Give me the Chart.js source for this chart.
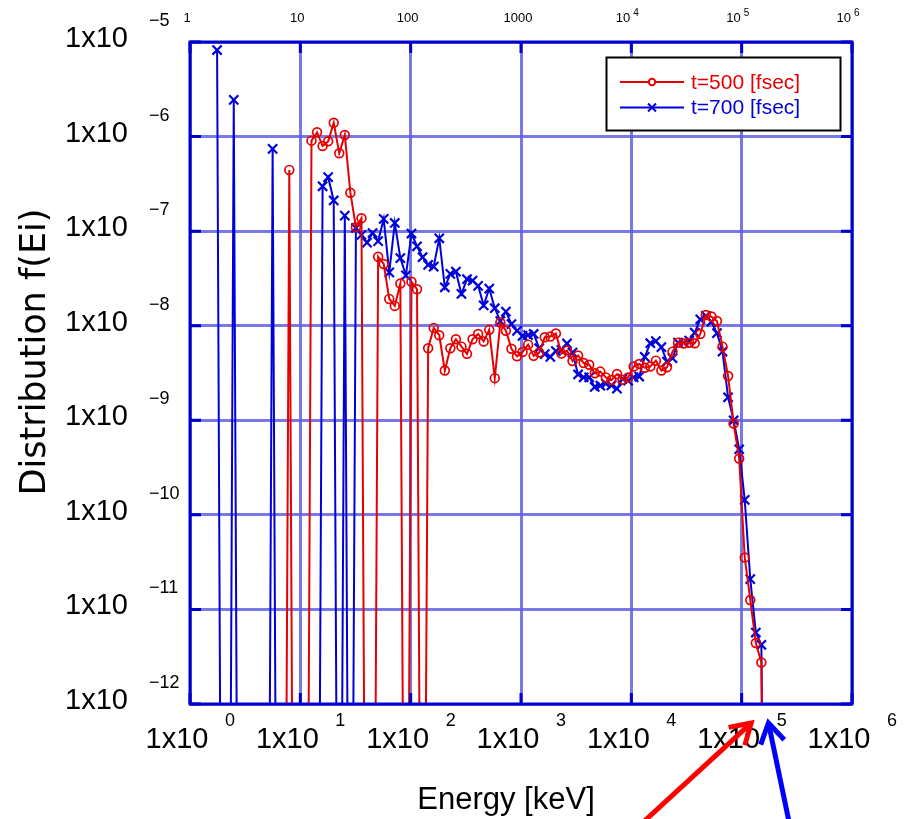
<!DOCTYPE html>
<html><head><meta charset="utf-8">
<script src="https://cdn.jsdelivr.net/npm/chart.js@4"></script>
<style>html,body{margin:0;padding:0;background:#fff}canvas{display:block}</style>
</head><body>
<canvas id="c" width="904" height="819"></canvas>
<script>
// Energy bins [keV] (log-spaced histogram bins)
const energyKeV = [
  1.760,1.976,2.219,2.492,2.798,3.142,3.528,3.962,4.449,4.995,
  5.609,6.298,7.072,7.941,8.917,10.01,11.24,12.62,14.17,15.91,
  17.87,20.07,22.53,25.30,28.41,31.90,35.82,40.22,45.16,50.71,
  56.95,63.95,71.81,80.63,90.55,101.7,114.2,128.2,144.0,161.7,
  181.6,203.9,228.9,257.1,288.6,324.1,363.9,408.7,458.9,515.3,
  578.6,649.7,729.6,819.3,919.9,1033,1160,1302,1462,1642,
  1844,2071,2325,2611,2932,3292,3697,4151,4661,5234,
  5877,6600,7411,8322,9345,10494,11783,13231,14858,16684,
  18734,21037,23623,26526,29786,33447,37558,42174,47357,53178,
  59715,67053,75295,84549,94940,106600,119700,134400,150900,169500
];
// Distribution f(Ei) at t=500 fsec (0 = empty bin)
const f500 = [
  0,0,0,0,0,0,0,0,0,0,
  0,0,0,4.44e-7,0,0,0,9.06e-7,1.11e-6,7.96e-7,
  8.91e-7,1.40e-6,6.65e-7,1.04e-6,2.55e-7,1.10e-7,1.37e-7,0,0,5.37e-8,
  4.50e-8,1.92e-8,1.62e-8,2.79e-8,0,2.92e-8,2.43e-8,0,5.78e-9,9.48e-9,
  7.93e-9,3.36e-9,5.78e-9,7.19e-9,6.01e-9,5.04e-9,7.19e-9,8.18e-9,6.82e-9,9.04e-9,
  2.79e-9,1.08e-8,8.85e-9,5.70e-9,4.75e-9,5.28e-9,6.31e-9,4.80e-9,5.20e-9,7.55e-9,
  7.67e-9,8.26e-9,5.07e-9,5.46e-9,4.23e-9,4.85e-9,4.03e-9,3.87e-9,3.14e-9,3.27e-9,
  2.84e-9,2.67e-9,3.08e-9,2.69e-9,2.83e-9,3.70e-9,3.94e-9,3.59e-9,3.70e-9,4.27e-9,
  3.36e-9,3.64e-9,5.32e-9,6.62e-9,6.49e-9,6.61e-9,6.53e-9,8.18e-9,1.30e-8,1.25e-8,
  1.12e-8,6.01e-9,2.94e-9,9.23e-10,3.94e-10,3.54e-11,1.26e-11,4.41e-12,2.75e-12,0
];
// Distribution f(Ei) at t=700 fsec (0 = empty bin)
const f700 = [
  8.22e-6,0,0,2.44e-6,0,0,0,0,0,0,
  7.40e-7,0,0,0,0,0,0,0,0,2.98e-7,
  3.72e-7,2.11e-7,0,1.46e-7,0,1.08e-7,9.12e-8,7.55e-8,9.55e-8,7.85e-8,
  1.35e-7,3.66e-8,1.22e-7,5.19e-8,3.41e-8,9.44e-8,6.92e-8,5.30e-8,4.40e-8,4.22e-8,
  8.41e-8,2.55e-8,3.53e-8,3.73e-8,2.17e-8,3.10e-8,3.00e-8,2.64e-8,1.64e-8,2.47e-8,
  1.53e-8,1.12e-8,1.41e-8,1.04e-8,8.81e-9,7.80e-9,7.94e-9,8.18e-9,5.78e-9,5.01e-9,
  4.68e-9,5.40e-9,5.55e-9,6.49e-9,5.20e-9,3.05e-9,2.85e-9,2.85e-9,2.25e-9,2.32e-9,
  2.44e-9,2.34e-9,2.16e-9,2.75e-9,2.63e-9,2.85e-9,2.90e-9,4.68e-9,6.53e-9,6.87e-9,
  5.93e-9,4.18e-9,4.53e-9,6.62e-9,6.62e-9,6.97e-9,8.45e-9,1.17e-8,1.27e-8,1.10e-8,
  8.34e-9,5.32e-9,1.75e-9,1.00e-9,4.94e-10,1.44e-10,2.09e-11,5.70e-12,4.23e-12,0
];
const seriesLabels = ['t=500 [fsec]', 't=700 [fsec]'];
const xDecades = [1, 10, 100, 1000, 1e4, 1e5, 1e6];
const xBottomExp = ['0', '1', '2', '3', '4', '5', '6'];
const xTopBase = ['1', '10', '100', '1000', '10', '10', '10'];
const xTopExp = ['', '', '', '', '4', '5', '6'];
const yDecades = [1e-5, 1e-6, 1e-7, 1e-8, 1e-9, 1e-10, 1e-11, 1e-12];
const yExp = ['\u22125', '\u22126', '\u22127', '\u22128', '\u22129', '\u221210', '\u221211', '\u221212'];
const xTitle = 'Energy [keV]';
const yTitle = 'Distribution f(Ei)';
const arrowTargetsKeV = [1.22e5, 1.75e5];

const RED = '#e60000', BLUE = '#0000d8';
const FONT = '"Liberation Sans", Arial, sans-serif';
const TITLE_FONT = '"DejaVu Sans", "Liberation Sans", sans-serif';
const FLOOR = 1e-18; // empty bins are drawn as dropping to the bottom of the axis

function pts(vals) {
  return energyKeV.map((e, i) => ({ x: e, y: vals[i] > 0 ? vals[i] : FLOOR }));
}
const isFloor = c => c.raw && c.raw.y <= FLOOR;

const decorations = {
  id: 'decorations',
  afterDraw(chart) {
    const { ctx, chartArea: a, scales: { x, y } } = chart;
    ctx.save();
    // frame
    ctx.strokeStyle = '#0000cc'; ctx.lineWidth = 3;
    ctx.strokeRect(a.left, a.top, a.right - a.left, a.bottom - a.top);
    // inner ticks
    ctx.lineWidth = 3;
    xDecades.forEach(v => {
      const px = x.getPixelForValue(v);
      ctx.beginPath();
      ctx.moveTo(px, a.bottom); ctx.lineTo(px, a.bottom - 11);
      ctx.moveTo(px, a.top); ctx.lineTo(px, a.top + 11);
      ctx.stroke();
    });
    yDecades.forEach(v => {
      const py = y.getPixelForValue(v);
      ctx.beginPath();
      ctx.moveTo(a.left, py); ctx.lineTo(a.left + 11, py);
      ctx.moveTo(a.right, py); ctx.lineTo(a.right - 11, py);
      ctx.stroke();
    });
    // y tick labels 1x10^n
    ctx.fillStyle = '#000';
    ctx.textBaseline = 'middle';
    yDecades.forEach((v, i) => {
      const py = y.getPixelForValue(v);
      ctx.font = '29px ' + FONT; ctx.textAlign = 'right';
      ctx.fillText('1x10', 128, py - 3);
      ctx.font = '18px ' + FONT; ctx.textAlign = 'left';
      ctx.fillText(yExp[i], 149, py - 21);
    });
    // bottom x tick labels
    xDecades.forEach((v, i) => {
      const px = x.getPixelForValue(v);
      ctx.font = '29px ' + FONT; ctx.textAlign = 'center';
      ctx.fillText('1x10', px - 13, a.bottom + 36);
      ctx.font = '18px ' + FONT;
      ctx.fillText(xBottomExp[i], px + 40, a.bottom + 17);
    });
    // top x tick labels
    xDecades.forEach((v, i) => {
      const px = x.getPixelForValue(v);
      ctx.font = '13px ' + FONT;
      if (xTopExp[i]) {
        ctx.textAlign = 'right';
        ctx.fillText(xTopBase[i], px - 1, 18);
        ctx.font = '10px ' + FONT; ctx.textAlign = 'left';
        ctx.fillText(xTopExp[i], px + 2, 13);
      } else {
        ctx.textAlign = 'center';
        ctx.fillText(xTopBase[i], px - 3, 18);
      }
    });
    // axis titles
    ctx.font = '31px ' + FONT; ctx.textAlign = 'center';
    ctx.fillText(xTitle, 506, 800);
    ctx.save();
    ctx.font = '35px ' + TITLE_FONT;
    ctx.translate(36, 352); ctx.rotate(-Math.PI / 2);
    ctx.fillText(yTitle, 0, 0);
    ctx.restore();
    // legend
    const lx = 606.5, ly = 57.5, lw = 234, lh = 73;
    ctx.fillStyle = '#fff'; ctx.fillRect(lx, ly, lw, lh);
    ctx.strokeStyle = '#000'; ctx.lineWidth = 2; ctx.strokeRect(lx, ly, lw, lh);
    chart.data.datasets.forEach((ds, i) => {
      const yy = 82 + i * 25.5;
      ctx.strokeStyle = ds.borderColor; ctx.lineWidth = 2;
      ctx.beginPath(); ctx.moveTo(620, yy); ctx.lineTo(684, yy); ctx.stroke();
      ctx.beginPath();
      if (i === 0) { ctx.arc(652, yy, 3.2, 0, Math.PI * 2); ctx.fillStyle = '#fff'; ctx.fill(); ctx.stroke(); }
      else { ctx.moveTo(648, yy - 4); ctx.lineTo(656, yy + 4); ctx.moveTo(656, yy - 4); ctx.lineTo(648, yy + 4); ctx.stroke(); }
      ctx.fillStyle = ds.borderColor; ctx.font = '21px ' + FONT; ctx.textAlign = 'left';
      ctx.fillText(ds.label, 691, yy + 1);
    });
    // annotation arrows
    const arrows = [
      { color: '#ff0000', tail: [-110, 101] },
      { color: '#0000ff', tail: [21, 101] }
    ];
    arrows.forEach((ar, i) => {
      const tx = x.getPixelForValue(arrowTargetsKeV[i]);
      const ty = a.bottom + 19;
      const ang = Math.atan2(ar.tail[1], ar.tail[0]);
      ctx.strokeStyle = ar.color; ctx.lineWidth = 5; ctx.lineCap = 'butt';
      ctx.beginPath();
      ctx.moveTo(tx + ar.tail[0], ty + ar.tail[1]);
      ctx.lineTo(tx + 2 * Math.cos(ang), ty + 2 * Math.sin(ang));
      ctx.stroke();
      ctx.beginPath();
      ctx.moveTo(tx + 23 * Math.cos(ang - 0.55), ty + 23 * Math.sin(ang - 0.55));
      ctx.lineTo(tx, ty);
      ctx.lineTo(tx + 23 * Math.cos(ang + 0.55), ty + 23 * Math.sin(ang + 0.55));
      ctx.stroke();
    });
    ctx.restore();
  }
};

const gridStyle = { color: 'rgba(96,96,226,0.85)', lineWidth: 3, drawTicks: false };

new Chart(document.getElementById('c'), {
  type: 'line',
  data: {
    datasets: [
      {
        label: seriesLabels[0], data: pts(f500),
        borderColor: RED, borderWidth: 2, tension: 0,
        pointStyle: 'circle', pointRadius: c => isFloor(c) ? 0 : 4.4,
        pointBorderWidth: 1.7, pointBorderColor: RED, pointBackgroundColor: 'rgba(255,255,255,0)'
      },
      {
        label: seriesLabels[1], data: pts(f700),
        borderColor: BLUE, borderWidth: 2, tension: 0,
        pointStyle: 'crossRot', pointRadius: c => isFloor(c) ? 0 : 6.5,
        pointBorderWidth: 2.2, pointBorderColor: BLUE, pointBackgroundColor: BLUE
      }
    ]
  },
  options: {
    responsive: false, animation: false, devicePixelRatio: 1,
    layout: { padding: { left: 190, right: 52, top: 42, bottom: 115 } },
    plugins: { legend: { display: false }, tooltip: { enabled: false } },
    scales: {
      x: {
        type: 'logarithmic', min: 1, max: 1e6,
        ticks: { display: false },
        afterBuildTicks: s => { s.ticks = xDecades.map(v => ({ value: v })); },
        grid: gridStyle, border: { display: false }
      },
      y: {
        type: 'logarithmic', min: 1e-12, max: 1e-5,
        ticks: { display: false },
        afterBuildTicks: s => { s.ticks = yDecades.map(v => ({ value: v })); },
        grid: gridStyle, border: { display: false }
      }
    }
  },
  plugins: [decorations]
});
</script>
</body></html>
